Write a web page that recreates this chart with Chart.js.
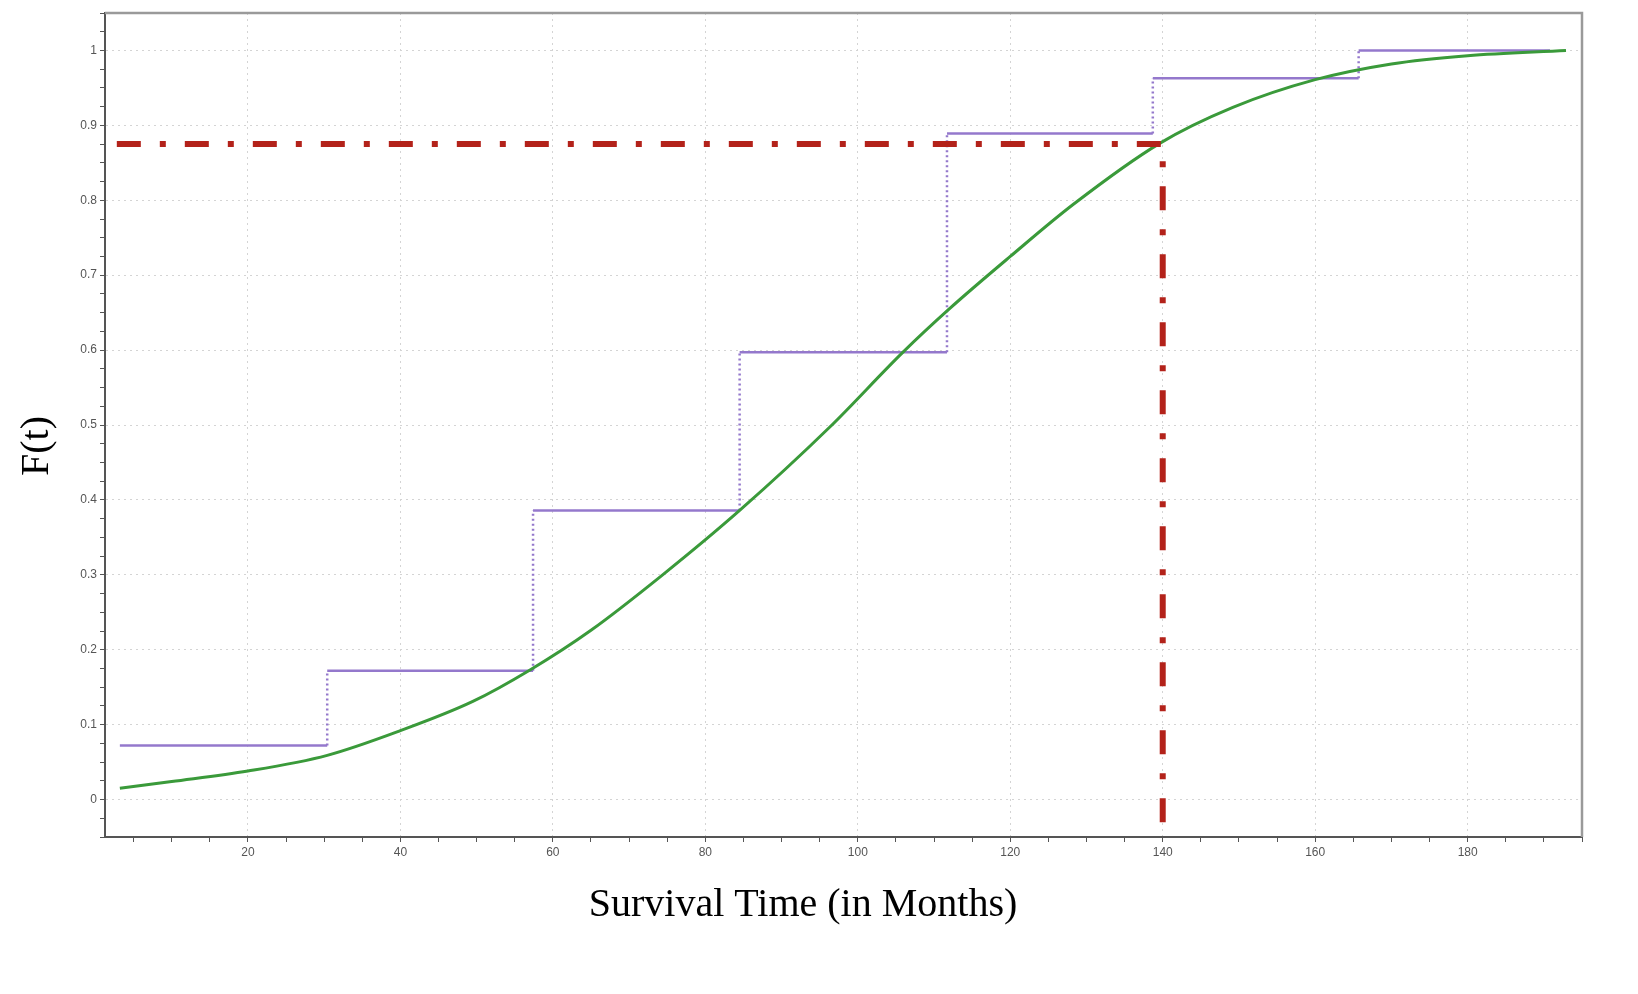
<!DOCTYPE html>
<html>
<head>
<meta charset="utf-8">
<script src="https://cdn.jsdelivr.net/npm/chart.js@4.4.1/dist/chart.umd.min.js"></script>
<style>
  html, body { margin: 0; padding: 0; background: #fff; }
  #wrap { width: 1638px; height: 994px; }
</style>
</head>
<body>
<div id="wrap"><canvas id="cdf" width="1638" height="994"></canvas></div>
<script>
// fitted CDF curve (green)
const curveX = [3.2, 10, 20, 30.4, 40, 49.5, 57, 65, 74.4, 84.5, 96.3, 105.9, 112, 120, 128.2, 139.6, 149.2, 160, 170, 180, 192.9];
const curveY = [0.015, 0.024, 0.038, 0.059, 0.092, 0.131, 0.173, 0.226, 0.300, 0.386, 0.497, 0.597, 0.655, 0.725, 0.794, 0.876, 0.924, 0.961, 0.982, 0.993, 1.0];

// empirical step function (purple)
const stepX = [3.2, 30.4, 57.4, 84.5, 111.7, 138.7, 165.7];
const stepY = [0.072, 0.172, 0.386, 0.597, 0.889, 0.963, 1.0];
const stepEnd = 190.8;

// reference lines (red dash-dot)
const refX = 140;
const refY = 0.875;
const refStartX = 2.8;
const yMin = -0.05, yMax = 1.05;
const xMin = 1.25, xMax = 195;

const xLabels = [20, 40, 60, 80, 100, 120, 140, 160, 180];
const yLabels = [0, 0.1, 0.2, 0.3, 0.4, 0.5, 0.6, 0.7, 0.8, 0.9, 1];

function stepPoints() {
  const pts = [];
  for (let i = 0; i < stepX.length; i++) {
    const next = i + 1 < stepX.length ? stepX[i + 1] : stepEnd;
    pts.push({ x: stepX[i], y: stepY[i] });
    pts.push({ x: next, y: stepY[i] });
  }
  return pts;
}

const isMajorX = v => xLabels.some(l => Math.abs(l - v) < 1e-6);
const isMajorY = v => yLabels.some(l => Math.abs(l - v) < 1e-6);

// top + right frame and the two axis titles
const framePlugin = {
  id: 'frame',
  afterDraw(chart) {
    const { ctx, chartArea: a } = chart;
    ctx.save();
    ctx.strokeStyle = '#9a9a9a';
    ctx.lineWidth = 2.5;
    ctx.beginPath();
    ctx.moveTo(a.left, a.top);
    ctx.lineTo(a.right, a.top);
    ctx.lineTo(a.right, a.bottom);
    ctx.stroke();

    ctx.fillStyle = '#000';
    ctx.font = '40px "Liberation Serif", "Times New Roman", serif';
    ctx.textAlign = 'center';
    ctx.textBaseline = 'middle';
    ctx.fillText('Survival Time (in Months)', 803, 905);
    ctx.translate(37, 446);
    ctx.rotate(-Math.PI / 2);
    ctx.fillText('F(t)', 0, 0);
    ctx.restore();
  }
};

new Chart(document.getElementById('cdf'), {
  type: 'scatter',
  data: {
    datasets: [
      {
        data: stepPoints(),
        showLine: true,
        borderColor: '#9478cc',
        borderWidth: 2.5,
        pointRadius: 0,
        segment: {
          borderDash: c => c.p0.parsed.x === c.p1.parsed.x ? [2, 3] : undefined
        },
        order: 3
      },
      {
        data: curveX.map((x, i) => ({ x, y: curveY[i] })),
        showLine: true,
        borderColor: '#3a9a3a',
        borderWidth: 3,
        pointRadius: 0,
        cubicInterpolationMode: 'monotone',
        order: 2
      },
      {
        data: [{ x: refStartX, y: refY }, { x: refX, y: refY }, { x: refX, y: yMin }],
        showLine: true,
        borderColor: '#b3221a',
        borderWidth: 6,
        borderDash: [24, 19, 6, 19],
        borderCapStyle: 'butt',
        pointRadius: 0,
        order: 1
      }
    ]
  },
  options: {
    responsive: false,
    animation: false,
    devicePixelRatio: 1,
    layout: { padding: { left: 0, right: 56, top: 13, bottom: 0 } },
    plugins: { legend: { display: false }, tooltip: { enabled: false } },
    scales: {
      x: {
        type: 'linear',
        min: xMin,
        max: xMax,
        afterFit: s => { s.height = 157; },
        border: { color: '#555', width: 2, dash: [2, 4] },
        grid: {
          color: c => isMajorX(c.tick.value) ? '#d4d4d4' : 'rgba(0,0,0,0)',
          tickColor: '#555',
          tickLength: 5,
          lineWidth: 1
        },
        ticks: {
          stepSize: 5,
          includeBounds: false,
          autoSkip: false,
          maxRotation: 0,
          padding: 3,
          color: '#555',
          font: { family: 'Arial, "Liberation Sans", sans-serif', size: 12 },
          callback: v => isMajorX(v) ? String(Math.round(v)) : ''
        }
      },
      y: {
        type: 'linear',
        min: yMin,
        max: yMax,
        afterFit: s => { s.width = 105; },
        border: { color: '#555', width: 2, dash: [2, 4] },
        grid: {
          color: c => isMajorY(c.tick.value) ? '#d4d4d4' : 'rgba(0,0,0,0)',
          tickColor: '#555',
          tickLength: 5,
          lineWidth: 1
        },
        ticks: {
          stepSize: 0.025,
          includeBounds: false,
          autoSkip: false,
          padding: 3,
          color: '#555',
          font: { family: 'Arial, "Liberation Sans", sans-serif', size: 12 },
          callback: v => isMajorY(v) ? String(Math.round(v * 10) / 10) : ''
        }
      }
    }
  },
  plugins: [framePlugin]
});
</script>
</body>
</html>
